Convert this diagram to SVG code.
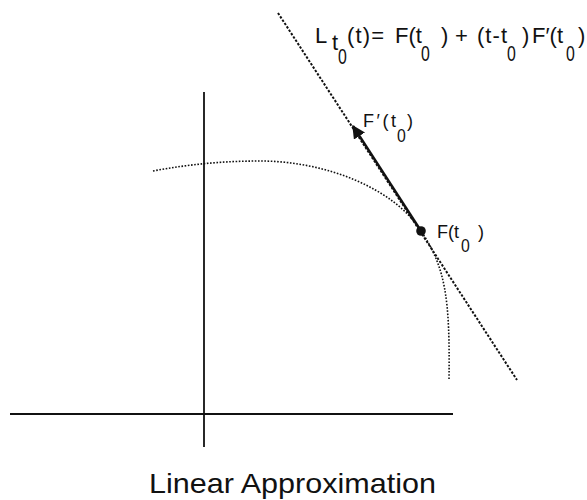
<svg xmlns="http://www.w3.org/2000/svg" width="587" height="500" viewBox="0 0 587 500">
  <defs>
    <style>
      .t { font-family: "Liberation Sans", Arial, sans-serif; fill: #111; }
      .eq { font-size: 22px; }
      .lb { font-size: 18px; }
      .sub { font-family: "Liberation Sans", Arial, sans-serif; fill: #111; font-size: 22px; }
      .axis { stroke: #111; stroke-width: 1.8; fill: none; }
    </style>
    <marker id="ah" viewBox="0 0 10 10" refX="9" refY="5" markerWidth="5.5" markerHeight="5.5" orient="auto" markerUnits="strokeWidth">
      <path d="M0,0 L10,5 L0,10 Z" fill="#111"/>
    </marker>
  </defs>
  <rect width="587" height="500" fill="#fff"/>

  <g id="axes">
    <line class="axis" x1="10" y1="414" x2="453" y2="414"/>
    <line class="axis" x1="204" y1="92" x2="204" y2="447"/>
  </g>

  <g id="connectors">
    <path id="curve" d="M153,171 C190,164 225,161 260,161 C325,161 394,188 421,231 C446,268 450,300 449,380" fill="none" stroke="#111" stroke-width="1.6" stroke-dasharray="1.6 1.6"/>
    <line id="tangent" x1="278" y1="13" x2="517" y2="380" stroke="#111" stroke-width="2" stroke-dasharray="2.4 1.6"/>
    <line id="derivative" x1="421" y1="231" x2="353" y2="126" stroke="#111" stroke-width="2.4" marker-end="url(#ah)"/>
  </g>

  <g id="point">
    <circle cx="421" cy="231" r="4.8" fill="#111"/>
  </g>

  <g id="equation" class="t eq">
    <text x="315" y="43">L</text>
    <text x="332" y="50">t</text>
    <text class="sub" transform="translate(338,64) scale(0.72,1)">0</text>
    <text x="347" y="43" textLength="37" lengthAdjust="spacing">(t)=</text>
    <text x="395" y="43">F(t</text>
    <text class="sub" transform="translate(421,61) scale(0.72,1)">0</text>
    <text x="441" y="43">)</text>
    <text x="455" y="43">+</text>
    <text x="477" y="43" textLength="30" lengthAdjust="spacing">(t-t</text>
    <text class="sub" transform="translate(507,61) scale(0.72,1)">0</text>
    <text x="522" y="43">)</text>
    <text x="532" y="43">F′(t</text>
    <text class="sub" transform="translate(566,61) scale(0.72,1)">0</text>
    <text x="578" y="43">)</text>
  </g>

  <g id="label-deriv" class="t lb">
    <text x="363" y="127" textLength="33" lengthAdjust="spacing">F′(t</text>
    <text class="sub" transform="translate(397,142) scale(0.72,0.85)">0</text>
    <text x="407" y="127">)</text>
  </g>

  <g id="label-point" class="t lb">
    <text x="437" y="238">F(t</text>
    <text class="sub" transform="translate(461,252) scale(0.72,0.85)">0</text>
    <text x="478" y="238">)</text>
  </g>

  <g id="title">
    <text class="t" x="149" y="493" font-size="28" textLength="287" lengthAdjust="spacingAndGlyphs">Linear Approximation</text>
  </g>
</svg>
